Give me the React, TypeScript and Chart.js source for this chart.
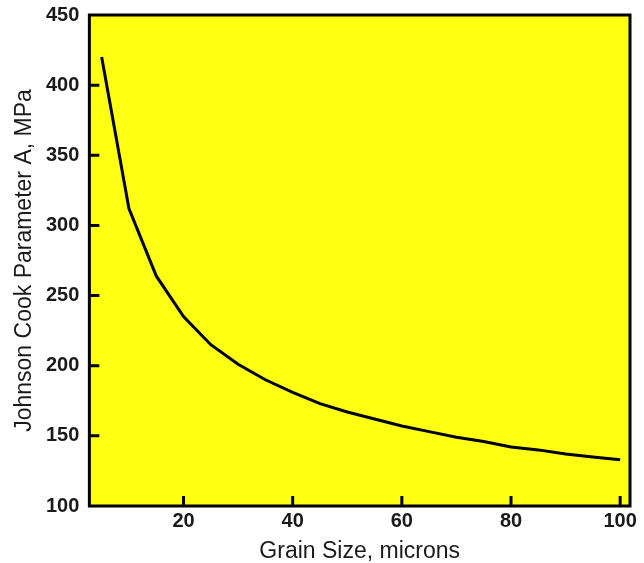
import React, { useEffect, useRef } from "react";
import { Chart, registerables } from "chart.js";

Chart.register(...registerables);

const grainSize = [5, 10, 15, 20, 25, 30, 35, 40, 45, 50, 55, 60, 65, 70, 75, 80, 85, 90, 95, 100];
const paramA = [420, 312, 264, 235, 215, 201, 190, 181, 173, 167, 162, 157, 153, 149, 146, 142, 140, 137, 135, 133];
const xTicks = [20, 40, 60, 80, 100];
const yTicks = [150, 200, 250, 300, 350, 400];

const FONT = "Liberation Sans, Arial, sans-serif";

const frame = {
  id: "frame",
  beforeDraw(chart: any) {
    const { ctx, chartArea: a } = chart;
    ctx.save();
    ctx.fillStyle = "#FFFF14";
    ctx.fillRect(a.left, a.top, a.right - a.left, a.bottom - a.top);
    ctx.restore();
  },
  afterDraw(chart: any) {
    const { ctx, chartArea: a, scales } = chart;
    ctx.save();
    ctx.strokeStyle = "#000";
    ctx.lineWidth = 3;
    ctx.beginPath();
    for (const v of xTicks) {
      const x = scales.x.getPixelForValue(v);
      ctx.moveTo(x, a.bottom);
      ctx.lineTo(x, a.bottom - 10);
    }
    for (const v of yTicks) {
      const y = scales.y.getPixelForValue(v);
      ctx.moveTo(a.left, y);
      ctx.lineTo(a.left + 10, y);
    }
    ctx.stroke();
    ctx.strokeRect(a.left, a.top, a.right - a.left, a.bottom - a.top);
    ctx.restore();
  },
};

export default function App() {
  const ref = useRef<HTMLCanvasElement>(null);
  useEffect(() => {
    const chart = new Chart(ref.current!, {
      type: "line",
      data: {
        datasets: [
          {
            data: grainSize.map((g, i) => ({ x: g, y: paramA[i] })),
            borderColor: "#000",
            borderWidth: 3,
            pointRadius: 0,
            tension: 0,
          },
        ],
      },
      options: {
        responsive: false,
        animation: false,
        layout: { padding: { top: 15, right: 14, left: 13, bottom: 0 } },
        plugins: { legend: { display: false }, tooltip: { enabled: false } },
        scales: {
          x: {
            type: "linear",
            min: 2.75,
            max: 101.8,
            afterBuildTicks: (s: any) => {
              s.ticks = xTicks.map((v) => ({ value: v }));
            },
            grid: { display: false, drawTicks: false },
            border: { display: false },
            ticks: {
              padding: 3,
              color: "#1a1a1a",
              font: { family: FONT, size: 20, weight: "bold" },
            },
            title: {
              display: true,
              text: "Grain Size, microns",
              color: "#1a1a1a",
              padding: { top: 4, bottom: 0 },
              font: { family: FONT, size: 23, lineHeight: 1 },
            },
          },
          y: {
            type: "linear",
            min: 100,
            max: 450,
            afterFit: (s: any) => {
              s.paddingTop = 12;
              s.paddingBottom = 12;
            },
            ticks: {
              stepSize: 50,
              padding: 10,
              color: "#1a1a1a",
              font: { family: FONT, size: 20, weight: "bold" },
            },
            grid: { display: false, drawTicks: false },
            border: { display: false },
            title: {
              display: true,
              text: "Johnson Cook Parameter A, MPa",
              color: "#1a1a1a",
              padding: { top: 0, bottom: 0 },
              font: { family: FONT, size: 23, lineHeight: 1 },
            },
          },
        },
      },
      plugins: [frame],
    });
    return () => chart.destroy();
  }, []);
  return (
    <div style={{ position: "absolute", left: 0, top: 0, width: 644, height: 563, background: "#fff" }}>
      <canvas ref={ref} width={644} height={563} />
    </div>
  );
}
